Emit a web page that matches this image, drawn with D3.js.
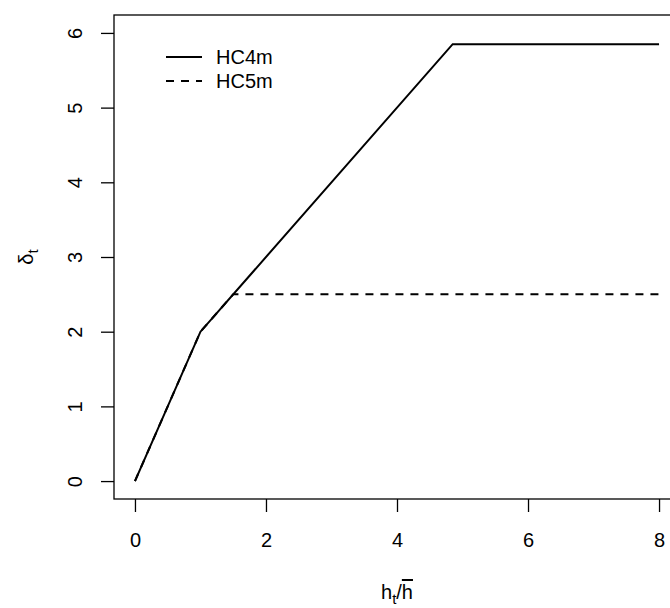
<!DOCTYPE html>
<html>
<head>
<meta charset="utf-8">
<script src="https://cdn.jsdelivr.net/npm/d3@7"></script>
<style>
  body { margin: 0; background: #ffffff; }
  svg { display: block; }
</style>
</head>
<body>
<div id="chart"></div>
<script>

// data
const seriesNames = ["HC4m", "HC5m"];
const hc4mX = [0, 1, 4.85, 8];
const hc4mY = [0, 2, 5.85, 5.85];
const hc5mX = [0, 1, 1.5, 8];
const hc5mY = [0, 2, 2.5, 2.5];
const xTicks = [0, 2, 4, 6, 8];
const yTicks = [0, 1, 2, 3, 4, 5, 6];

const fontFamily = "'Liberation Sans', Arial, Helvetica, sans-serif";
const fontSize = 20;

const W = 670, H = 608;
const box = { left: 114, right: 680, top: 15, bottom: 499 };

const svg = d3.select("#chart").append("svg")
  .attr("width", W)
  .attr("height", H);

// R style: 4% extension on each side
const x = d3.scaleLinear().domain([-0.32, 8.32]).range([box.left, box.right]);
const y = d3.scaleLinear().domain([-0.24, 6.24]).range([box.bottom, box.top]);


//--------------------------------------
// AXES
//--------------------------------------

const xAxis = svg.append("g")
  .attr("transform", "translate(0," + box.bottom + ")")
  .call(d3.axisBottom(x).tickValues(xTicks).tickSize(13).tickPadding(21).tickFormat(d3.format("d")));

xAxis.select(".domain").remove();
xAxis.selectAll("line").attr("stroke", "#000").attr("stroke-width", 1.3);
xAxis.selectAll("text")
  .attr("font-family", fontFamily)
  .attr("font-size", fontSize)
  .attr("fill", "#000");

const yAxis = svg.append("g")
  .attr("transform", "translate(" + box.left + ",0)")
  .call(d3.axisLeft(y).tickValues(yTicks).tickSize(13).tickFormat(d3.format("d")));

yAxis.select(".domain").remove();
yAxis.selectAll("line").attr("stroke", "#000").attr("stroke-width", 1.3);
yAxis.selectAll("text")
  .attr("x", null)
  .attr("dy", null)
  .attr("transform", "translate(-32,0) rotate(-90)")
  .attr("text-anchor", "middle")
  .attr("font-family", fontFamily)
  .attr("font-size", fontSize)
  .attr("fill", "#000");

// plot box
svg.append("rect")
  .attr("x", box.left)
  .attr("y", box.top)
  .attr("width", box.right - box.left)
  .attr("height", box.bottom - box.top)
  .attr("fill", "none")
  .attr("stroke", "#000")
  .attr("stroke-width", 1.3);


//--------------------------------------
// LINES
//--------------------------------------

const line = d3.line()
  .x(function(d) { return x(d[0]); })
  .y(function(d) { return y(d[1]); });

const series = [
  { name: seriesNames[0], pts: d3.zip(hc4mX, hc4mY), dash: null },
  { name: seriesNames[1], pts: d3.zip(hc5mX, hc5mY), dash: "8,7" }
];

svg.selectAll("path.series")
  .data(series)
  .enter()
  .append("path")
  .attr("class", "series")
  .attr("d", function(d) { return line(d.pts); })
  .attr("fill", "none")
  .attr("stroke", "#000")
  .attr("stroke-width", 2)
  .attr("stroke-dasharray", function(d) { return d.dash; });


//--------------------------------------
// LEGEND
//--------------------------------------

const legend = svg.append("g");

series.forEach(function(s, i) {
  let ly = 57 + i * 24;
  legend.append("line")
    .attr("x1", 166).attr("x2", 202)
    .attr("y1", ly).attr("y2", ly)
    .attr("stroke", "#000")
    .attr("stroke-width", 2)
    .attr("stroke-dasharray", s.dash);
  legend.append("text")
    .attr("x", 216)
    .attr("y", ly + 7)
    .attr("font-family", fontFamily)
    .attr("font-size", fontSize)
    .text(s.name);
});


//--------------------------------------
// AXIS TITLES
//--------------------------------------

const xTitle = svg.append("text")
  .attr("x", (box.left + box.right) / 2)
  .attr("y", 599)
  .attr("text-anchor", "middle")
  .attr("font-family", fontFamily)
  .attr("font-size", fontSize);
xTitle.append("tspan").text("h");
xTitle.append("tspan").attr("font-size", 15).attr("dy", 5).text("t");
xTitle.append("tspan").attr("dy", -5).text("/");
xTitle.append("tspan").attr("text-decoration", "overline").text("h");

const yTitle = svg.append("text")
  .attr("transform", "translate(33," + ((box.top + box.bottom) / 2) + ") rotate(-90)")
  .attr("text-anchor", "middle")
  .attr("font-family", fontFamily)
  .attr("font-size", fontSize);
yTitle.append("tspan").text("δ");
yTitle.append("tspan").attr("font-size", 15).attr("dy", 5).text("t");

</script>
</body>
</html>
